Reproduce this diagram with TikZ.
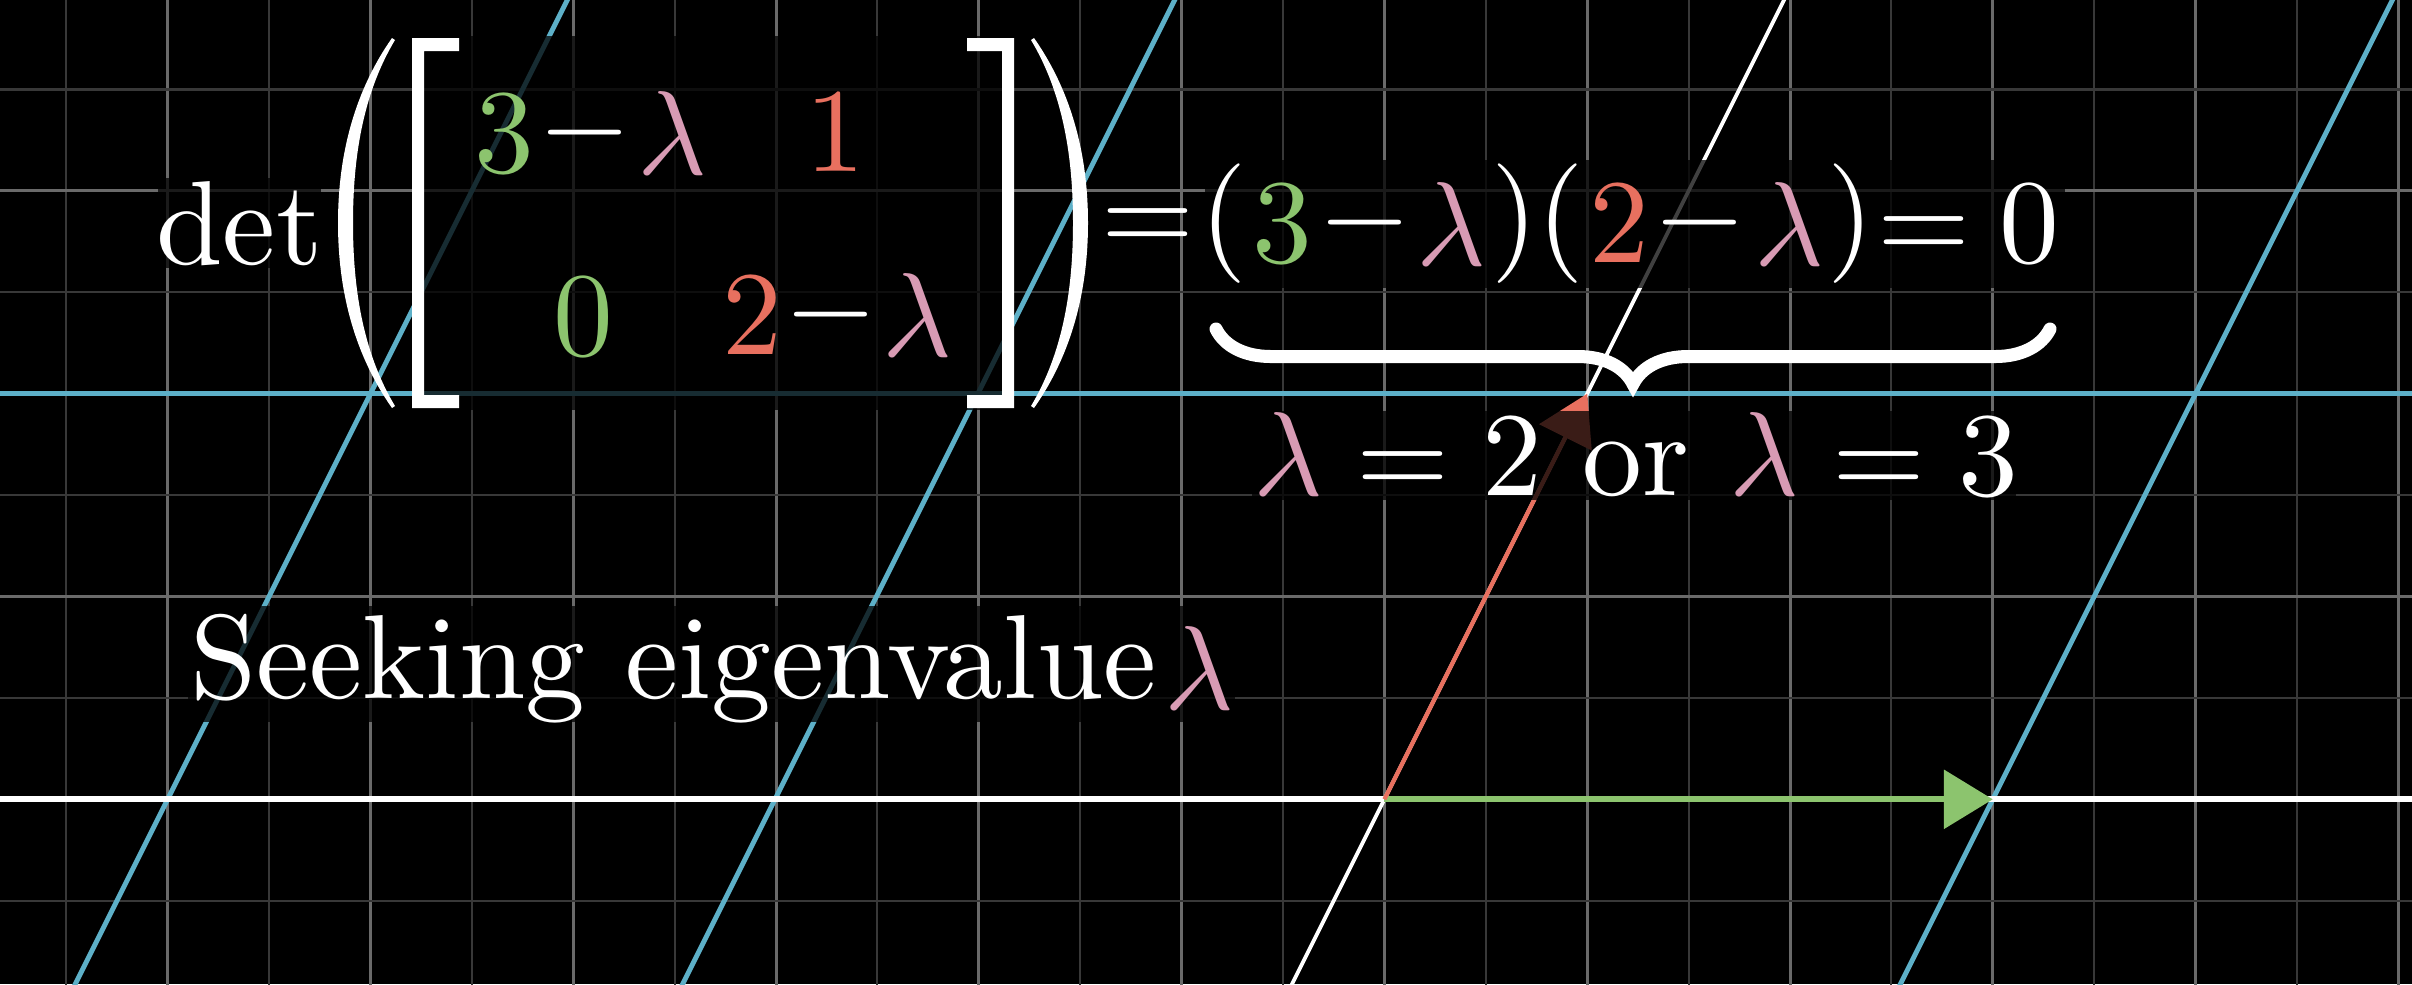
\documentclass[tikz,border=0pt]{standalone}
\usepackage{graphicx}
\usetikzlibrary{arrows.meta,decorations.pathreplacing}
\definecolor{gridmaj}{HTML}{6A6A6A}
\definecolor{gridmin}{HTML}{383838}
\definecolor{tblue}{HTML}{5DB0C8}
\definecolor{vgreen}{HTML}{8CC46E}
\definecolor{vred}{HTML}{E8705F}
\definecolor{lpink}{HTML}{D89BB4}
\newcommand{\BigG}[1]{\scalebox{3.4}{#1}}
\begin{document}
\begin{tikzpicture}[x=0.01cm,y=-0.01cm,
  majline/.style={draw=gridmaj,line width=0.85pt},
  minline/.style={draw=gridmin,line width=0.6pt},
  tline/.style={draw=tblue,line width=1.4pt},
  axisline/.style={draw=white,line width=1.7pt},
  jline/.style={draw=white,line width=1.1pt},
  dimbox/.style={fill=black,fill opacity=0.75},
  glyph/.style={inner sep=0pt,outer sep=0pt,text=white,font=\normalsize},
  vecarrow/.style={-{Triangle[length=13.9pt,width=16.5pt]}},
  delim/.style={fill=white,draw=none}]
% background
\fill[black] (0,0) rectangle (2412,984);
\useasboundingbox (0,0) rectangle (2412,984);
% faded original grid
\foreach \m in {-7,...,4} \draw[minline] ({1485.8+202.8*\m},-5) -- ({1485.8+202.8*\m},990);
\foreach \m in {-6,...,5} \draw[majline] ({1384.4+202.8*\m},-5) -- ({1384.4+202.8*\m},990);
\foreach \yy in {900.7,697.9,495.1,292.3,89.5} \draw[minline] (-5,\yy) -- (2420,\yy);
\foreach \yy in {596.5,190.9} \draw[majline] (-5,\yy) -- (2420,\yy);
% transformed grid lines
\draw[tline] (-5,393.7) -- (2420,393.7);
\foreach \xo in {167.6,775.0,1992.8} \draw[tline] ({\xo+404.65},-10) -- ({\xo-97.35},994);
% transformed axes
\coordinate (O) at (1384.4,799.3);
\coordinate (I) at (1992.8,799.3);
\coordinate (J) at (1587.2,393.7);
\coordinate (axL) at (-5,799.3);
\coordinate (axR) at (2420,799.3);
\coordinate (jtop) at (1789.05,-10);
\coordinate (jbot) at (1287.05,994);
\draw[axisline] (axL) -- (axR);
\draw[jline] (jbot) -- (jtop);
% basis vectors
\draw[vgreen,line width=1.7pt,vecarrow] (O) -- (I);
\draw[vred,line width=1.2pt,vecarrow] (O) -- (J);
% background rectangles behind text
\fill[dimbox] (158,178) rectangle (321,268);
\fill[dimbox] (412,36) rectangle (1014,410);
\fill[dimbox] (1205,160) rectangle (2065,288);
\fill[dimbox] (1252,411) rectangle (2016,500);
\fill[dimbox] (188,606) rectangle (1235,722);
% det
\node[glyph] (det) at (239.5,223.4) {\BigG{det}};
% big parentheses
\fill[delim] (392,38) .. controls (352,95) and (338,160) .. (338,223) .. controls (338,286) and (352,351) .. (392,408)
  -- (395,406) .. controls (362,351) and (353,286) .. (353,223) .. controls (353,160) and (362,95) .. (395,40) -- cycle;
\fill[delim] (1034,38) .. controls (1074,95) and (1088,160) .. (1088,223) .. controls (1088,286) and (1074,351) .. (1034,408)
  -- (1031,406) .. controls (1064,351) and (1073,286) .. (1073,223) .. controls (1073,160) and (1064,95) .. (1031,40) -- cycle;
% brackets
\fill[delim] (412,38) -- (459,38) -- (459,51) -- (424,51) -- (424,395) -- (459,395) -- (459,408) -- (412,408) -- cycle;
\fill[delim] (1014,38) -- (967,38) -- (967,51) -- (1002,51) -- (1002,395) -- (967,395) -- (967,408) -- (1014,408) -- cycle;
% matrix entries
\node[glyph,text=vgreen] (a1) at (504.5,134) {\BigG{$3$}};
\node[glyph] (a2) at (584.5,133) {\BigG{$-$}};
\node[glyph,text=lpink] (a3) at (672,133) {\BigG{$\lambda$}};
\node[glyph,text=vred] (b1) at (835,133) {\BigG{$1$}};
\node[glyph,text=vgreen] (c1) at (583.6,316.5) {\BigG{$0$}};
\node[glyph,text=vred] (d1) at (752,316) {\BigG{$2$}};
\node[glyph] (d2) at (831,315) {\BigG{$-$}};
\node[glyph,text=lpink] (d3) at (917,315) {\BigG{$\lambda$}};
\node[glyph] (eq1) at (1148,230.5) {\BigG{$=$}};
% product
\node[glyph] (p1) at (1223.5,223.5) {\BigG{$($}};
\node[glyph,text=vgreen] (p2) at (1282,224) {\BigG{$3$}};
\node[glyph] (p3) at (1365,223) {\BigG{$-$}};
\node[glyph,text=lpink] (p4) at (1451,223.5) {\BigG{$\lambda$}};
\node[glyph] (p5) at (1514.5,223.5) {\BigG{$)$}};
\node[glyph] (p6) at (1560.5,223.5) {\BigG{$($}};
\node[glyph,text=vred] (p7) at (1619,224) {\BigG{$2$}};
\node[glyph] (p8) at (1700,223) {\BigG{$-$}};
\node[glyph,text=lpink] (p9) at (1789,223.5) {\BigG{$\lambda$}};
\node[glyph] (p10) at (1850.5,223.5) {\BigG{$)$}};
\node[glyph] (eq2) at (1923.5,239) {\BigG{$=$}};
\node[glyph] (p11) at (2029,223.5) {\BigG{$0$}};
% brace
\coordinate (braceL) at (1216,329);
\coordinate (braceR) at (2050,329);
\draw[white,line width=3.7pt,line cap=round,decorate,decoration={brace,amplitude=0.55cm}] (braceR) -- (braceL);
% solutions
\node[glyph,anchor=base] (sol) at (1636,495) {\BigG{$\textcolor{lpink}{\lambda} = 2 \mbox{ or } \textcolor{lpink}{\lambda} = 3$}};
% seeking
\node[glyph,anchor=base west] (seek) at (190,698) {\BigG{Seeking eigenvalue}};
\node[glyph,text=lpink] (seekl) at (1199,667.5) {\BigG{$\lambda$}};
\end{tikzpicture}
\end{document}
